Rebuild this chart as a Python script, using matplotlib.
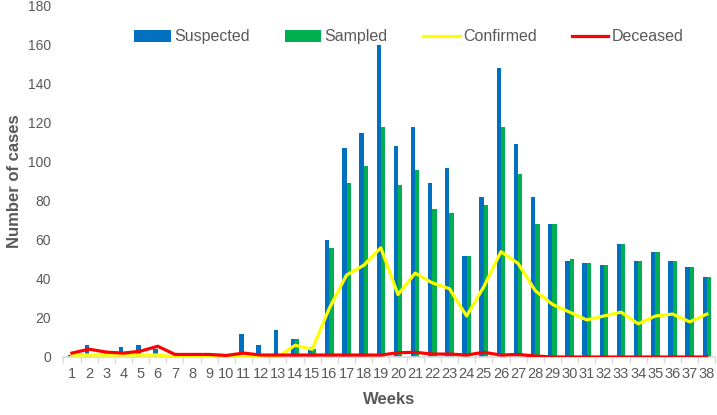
import numpy as np
import matplotlib
matplotlib.use("Agg")
import matplotlib.pyplot as plt

weeks = list(range(1, 39))

suspected = [1, 6, 0, 5, 6, 4, 0, 0, 0, 0, 12, 6, 14, 9, 5, 60, 107, 115, 160, 108,
             118, 89, 97, 52, 82, 148, 109, 82, 68, 49, 48, 47, 58, 49, 54, 49, 46, 41]
sampled = [0, 0, 0, 0, 0, 0, 0, 0, 0, 0, 0, 0, 0, 9, 4, 56, 89, 98, 118, 88,
           96, 76, 74, 52, 78, 118, 94, 68, 68, 50, 48, 47, 58, 49, 54, 49, 46, 41]
confirmed = [1, 1, 1, 1, 1, 1, 0, 0, 0, 0, 1, 0, 0, 6, 4, 25, 42, 47, 56, 32,
             43, 38, 35, 21, 36, 54, 48, 34, 27, 23, 19, 21, 23, 17, 21, 22, 18, 22]
deceased = [2, 4, 2.5, 2, 3, 5.5, 1.3, 1.3, 1.3, 0.8, 2, 1, 1, 1, 1, 1, 1, 1, 1, 2.2,
            2.4, 1.5, 1.5, 1, 2.4, 1, 1.3, 0.5, 0, 0, 0, 0, 0, 0, 0, 0, 0, 0]

plt.rcParams['font.family'] = ['Liberation Sans', 'DejaVu Sans']
grey = "#595959"

fig = plt.figure(figsize=(7.17, 4.15), dpi=100)
ax = fig.add_axes([0.0884, 0.1398, 0.9094, 0.8458])

x = np.array(weeks)
w = 0.25
b1 = ax.bar(x - w / 2, suspected, width=w, color="#0070C0", label="Suspected", zorder=2)
b2 = ax.bar(x + w / 2, sampled, width=w, color="#00B050", label="Sampled", zorder=2)
l1, = ax.plot(x, confirmed, color="#FFFF00", lw=2.3, label="Confirmed", zorder=3)
l2, = ax.plot(x, deceased, color="#FF0000", lw=2.3, label="Deceased", zorder=4)

ax.set_xlim(0.5, 38.5)
ax.set_ylim(0, 180)
ax.set_yticks(range(0, 181, 20))
ax.set_xticks(weeks)
ax.set_xticks(np.arange(0.5, 39, 1), minor=True)

for s in ["top", "right", "left"]:
    ax.spines[s].set_visible(False)
ax.spines["bottom"].set_color("#D9D9D9")
ax.spines["bottom"].set_linewidth(1.2)

ax.tick_params(axis="y", length=0, pad=9, labelsize=10, labelcolor=grey)
ax.tick_params(axis="x", which="major", length=0, pad=7, labelsize=10.5, labelcolor=grey)
ax.tick_params(axis="x", which="minor", length=4, color="#D9D9D9", width=1)

ax.set_ylabel("Number of cases", fontsize=12, fontweight="bold", color=grey, labelpad=4)
ax.set_xlabel("Weeks", fontsize=12, fontweight="bold", color=grey, labelpad=8)

fig.legend([b1, b2, l1, l2], ["Suspected", "Sampled", "Confirmed", "Deceased"],
           loc="center", bbox_to_anchor=(0.57, 0.911), ncol=4, frameon=False,
           fontsize=11.5, labelcolor=grey, handlelength=2.3, handleheight=0.8,
           handletextpad=0.2, columnspacing=2.2)

fig.savefig("out.png", dpi=100)
